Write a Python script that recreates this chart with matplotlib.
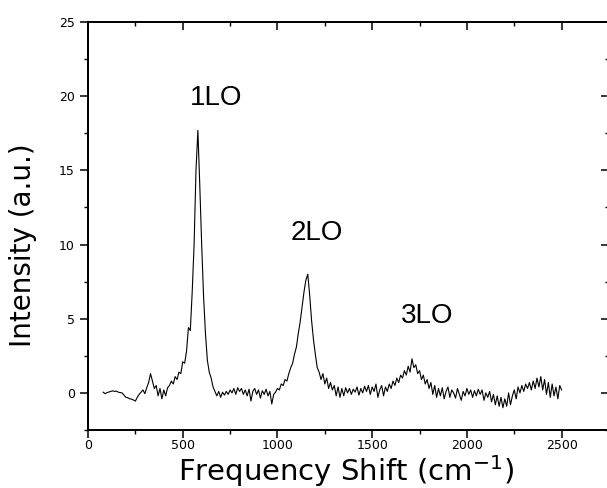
import matplotlib
matplotlib.use("Agg")
import matplotlib.pyplot as plt
from matplotlib.ticker import MultipleLocator

# Raman shift (cm^-1), 80..2500 step 10
shift_start, shift_step = 80, 10
intensity = [
    0.05, -0.05, 0.02, 0.06, 0.10, 0.14, 0.10, 0.12, 0.05, 0.02,        # 80-170
    0.00, -0.15, -0.30, -0.32, -0.40, -0.42, -0.48, -0.55, -0.30, -0.10,  # 180-270
    0.05, 0.20, -0.05, 0.35, 0.70, 1.30, 0.80, 0.30, 0.50, -0.20,       # 280-370
    0.30, -0.40, 0.20, -0.20, 0.35, 0.50, 0.80, 0.60, 1.10, 0.90,       # 380-470
    1.40, 1.30, 2.10, 2.00, 2.80, 4.40, 4.20, 6.80, 10.0, 15.0,         # 480-570
    17.7, 14.0, 10.0, 6.50, 4.00, 2.20, 1.40, 1.00, 0.40, 0.10,         # 580-670
    -0.20, 0.10, -0.30, 0.05, -0.15, 0.10, -0.10, 0.20, 0.00, 0.30,     # 680-770
    -0.10, 0.35, 0.10, 0.30, -0.10, 0.20, -0.20, 0.25, -0.55, 0.10,     # 780-870
    0.30, -0.10, 0.20, -0.35, 0.15, -0.10, 0.25, -0.20, 0.10, -0.75,    # 880-970
    -0.10, 0.05, 0.30, 0.20, 0.60, 0.50, 0.90, 0.80, 1.30, 1.70,        # 980-1070
    2.00, 2.60, 3.10, 4.00, 4.80, 5.80, 6.80, 7.60, 8.00, 6.60,         # 1080-1170
    4.90, 3.60, 2.60, 1.70, 1.40, 0.90, 1.30, 0.60, 1.00, 0.30,         # 1180-1270
    0.70, 0.20, 0.50, -0.20, 0.40, -0.30, 0.30, -0.20, 0.35, 0.00,      # 1280-1370
    0.30, -0.10, 0.25, 0.05, 0.40, -0.15, 0.30, 0.00, 0.45, 0.10,       # 1380-1470
    0.50, -0.10, 0.40, 0.10, 0.60, -0.30, 0.20, 0.50, -0.20, 0.40,      # 1480-1570
    0.10, 0.60, 0.30, 0.80, 0.50, 1.00, 0.70, 1.20, 1.00, 1.50,         # 1580-1670
    1.20, 1.80, 1.40, 2.30, 1.70, 1.90, 1.30, 1.50, 0.90, 1.20,         # 1680-1770
    0.60, 0.90, 0.30, 0.70, -0.10, 0.50, -0.30, 0.30, -0.20, 0.35,      # 1780-1870
    -0.40, 0.10, 0.40, -0.30, 0.20, 0.00, -0.35, 0.30, -0.10, -0.50,    # 1880-1970
    0.10, -0.20, 0.30, -0.10, 0.20, -0.30, 0.15, -0.20, 0.25, -0.10,    # 1980-2070
    0.20, -0.50, 0.00, -0.30, 0.10, -0.60, -0.10, -0.80, -0.20, -0.90,  # 2080-2170
    -0.30, -1.00, -0.40, -0.90, 0.00, -0.80, -0.20, 0.20, -0.40, 0.40,  # 2180-2270
    0.00, 0.50, 0.10, 0.60, 0.30, 0.70, 0.20, 0.80, 0.30, 1.00,         # 2280-2370
    0.40, 1.10, 0.20, 0.90, -0.10, 0.70, -0.30, 0.60, -0.20, 0.40,      # 2380-2470
    -0.40, 0.50, 0.20,                                                  # 2480-2500
]
shift = [shift_start + shift_step * i for i in range(len(intensity))]

peak_labels = ["1LO", "2LO", "3LO"]
peak_label_x = [540, 1069, 1651]
peak_label_y = [19.9, 10.8, 5.2]

x_ticks = [0, 500, 1000, 1500, 2000, 2500]
y_ticks = [0, 5, 10, 15, 20, 25]

plt.rcParams['font.family'] = ['DejaVu Sans']

fig = plt.figure(figsize=(6.07, 4.88), dpi=100)
W, H = 607, 488
ax = fig.add_axes([88 / W, 1 - 430 / H, (609 - 88) / W, (430 - 22) / H])

ax.plot(shift, intensity, color='black', lw=0.8)
ax.set_xlim(0, 2750)
ax.set_ylim(-2.5, 25)

ax.set_xticks(x_ticks)
ax.set_yticks(y_ticks)
ax.xaxis.set_minor_locator(MultipleLocator(250))
ax.yaxis.set_minor_locator(MultipleLocator(2.5))
ax.tick_params(which='major', direction='out', length=5.5, width=1.1, labelsize=9)
ax.tick_params(axis='y', pad=4)
ax.tick_params(axis='x', pad=0.8)
ax.tick_params(which='minor', direction='out', length=3, width=1.0)
for s in ax.spines.values():
    s.set_linewidth(1.1)

# inward ticks on top and right
axr = ax.twinx()
axr.set_ylim(ax.get_ylim())
axr.set_yticks(y_ticks)
axr.yaxis.set_minor_locator(MultipleLocator(2.5))
axr.tick_params(which='major', direction='in', length=5.5, width=1.1, labelright=False)
axr.tick_params(which='minor', direction='in', length=3, width=1.0)
axt = ax.twiny()
axt.set_xlim(ax.get_xlim())
axt.set_xticks(x_ticks)
axt.xaxis.set_minor_locator(MultipleLocator(250))
axt.tick_params(which='major', direction='in', length=5.5, width=1.1, labeltop=False)
axt.tick_params(which='minor', direction='in', length=3, width=1.0)
for a in (axr, axt):
    for s in a.spines.values():
        s.set_linewidth(1.1)

ax.set_xlabel(r"Frequency Shift (cm$\mathregular{^{-1}}$)", fontsize=21)
ax.xaxis.set_label_coords((346 - 88) / 521, (430 - 453) / 408)
ax.set_ylabel("Intensity (a.u.)", fontsize=20)
ax.yaxis.set_label_coords((37 - 88) / 521, (430 - 245) / 408)

for lab, lx, ly in zip(peak_labels, peak_label_x, peak_label_y):
    ax.text(lx, ly, lab, fontsize=20, ha='left', va='center',
            family=['Liberation Sans', 'DejaVu Sans'])

fig.savefig("out.png", dpi=100)
